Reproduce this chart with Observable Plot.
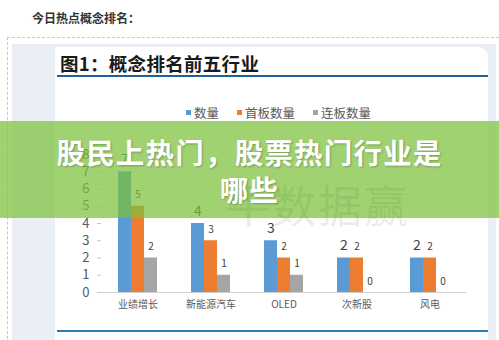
<!DOCTYPE html>
<html>
<head>
<meta charset="utf-8">
<script src="https://cdn.jsdelivr.net/npm/d3@7"></script>
<script src="https://cdn.jsdelivr.net/npm/@observablehq/plot@0.6"></script>
<style>
  html, body { margin: 0; padding: 0; background: #fff; }
  body { width: 499px; height: 340px; overflow: hidden; position: relative; font-family: "Noto Sans CJK SC", "Noto Sans", sans-serif; }
  .abs { position: absolute; }
  #top { left: 32px; top: 9px; font-size: 12px; font-weight: 700; color: #333; }
  #dash { left: 7px; top: 37px; width: 520px; height: 340px; border: 1px dashed #c8c8c8; }
  #panel { left: 12px; top: 44px; width: 484px; height: 300px; background: #e9eff5; }
  #white { left: 55px; top: 47px; width: 433px; height: 300px; background: #fff; border-top-right-radius: 10px; }
  #title { left: 60px; top: 50px; font-size: 18.5px; font-weight: 700; color: #1a1a1a; letter-spacing: 0.3px; }
  #uline { left: 57px; top: 75px; width: 431px; height: 2px; background: #1f5f9a; }
  #bline { left: 57px; top: 330px; width: 431px; height: 2px; background: #2a7ab0; }
  #legend { left: 186px; top: 103px; font-size: 12.5px; color: #595959; display: flex; gap: 0; white-space: nowrap; }
  #legend span.item { display: inline-flex; align-items: center; margin-right: 18px; }
  #legend i { display: inline-block; width: 5px; height: 5px; margin-right: 3px; }
  #chart { left: 55px; top: 140px; }
  #band { left: 0; top: 121px; width: 499px; height: 97px; background: rgba(124,192,58,0.72); }
  #wm { left: 226px; top: 172px; font-size: 44px; color: rgba(70,120,40,0.12); letter-spacing: 2px; }
  #head { left: 0; top: 133px; width: 499px; text-align: center; color: #fff; font-weight: 700; font-size: 28.5px; line-height: 37px; letter-spacing: 1.2px; text-shadow: 1px 1px 2px rgba(0,0,0,0.25); }
</style>
</head>
<body>
<div id="top" class="abs">今日热点概念排名：</div>
<div id="dash" class="abs"></div>
<div id="panel" class="abs"></div>
<div id="white" class="abs"></div>
<div id="title" class="abs">图1：概念排名前五行业</div>
<div id="uline" class="abs"></div>
<div id="legend" class="abs"></div>
<div id="chart" class="abs"></div>
<div id="bline" class="abs"></div>
<div id="band" class="abs"></div>
<div id="wm" class="abs">牛数据赢</div>
<div id="head" class="abs">股民上热门，股票热门行业是<br>哪些</div>
<script>
const categories = ["业绩增长", "新能源汽车", "OLED", "次新股", "风电"];
const series = ["数量", "首板数量", "连板数量"];
const countValues = [7, 4, 3, 2, 2];
const firstValues = [5, 3, 2, 2, 2];
const consecValues = [2, 1, 1, 0, 0];
const colors = ["#5b9bd5", "#ed7d31", "#a5a5a5"];
const yTicks = [0, 1, 2, 3, 4, 5, 6, 7, 8];

const seriesValues = [countValues, firstValues, consecValues];
const rows = [];
categories.forEach((c, i) => {
  series.forEach((s, j) => rows.push({category: c, series: s, value: seriesValues[j][i]}));
});

// legend
const legend = document.getElementById("legend");
series.forEach((s, j) => {
  const item = document.createElement("span");
  item.className = "item";
  item.innerHTML = `<i style="background:${colors[j]}"></i>${s}`;
  legend.appendChild(item);
});

const chart = Plot.plot({
  width: 433,
  height: 175,
  marginLeft: 44,
  marginRight: 20,
  marginTop: 14,
  marginBottom: 23,
  style: {fontFamily: "'Noto Sans CJK SC', sans-serif", background: "transparent", color: "#595959"},
  fx: {domain: categories, padding: 0, label: null},
  x: {domain: series, paddingInner: 0, paddingOuter: 1.14, axis: null},
  y: {domain: [0, 8], label: null},
  color: {domain: series, range: colors},
  marks: [
    Plot.axisY({ticks: yTicks, tickSize: 4, tickPadding: 8, line: true, stroke: "#c8c8c8", fill: "#595959", fontSize: 13, label: null, tickFormat: d => d}),
    Plot.axisFx({anchor: "bottom", tickSize: 0, tickPadding: 8, fontSize: 10, fill: "#595959", label: null}),
    Plot.ruleY([0], {stroke: "#d0d0d0"}),
    Plot.barY(rows, {fx: "category", x: "series", y: "value", fill: "series"}),
    Plot.text(rows.filter(d => d.series === series[0]), {fx: "category", x: "series", y: "value", text: "value", dy: -12, fontSize: 14, fill: "#404040"}),
    Plot.text(rows.filter(d => d.series !== series[0]), {fx: "category", x: "series", y: "value", text: "value", dy: -11, fontSize: 10, fill: "#404040"})
  ]
});
document.getElementById("chart").appendChild(chart);
</script>
</body>
</html>
